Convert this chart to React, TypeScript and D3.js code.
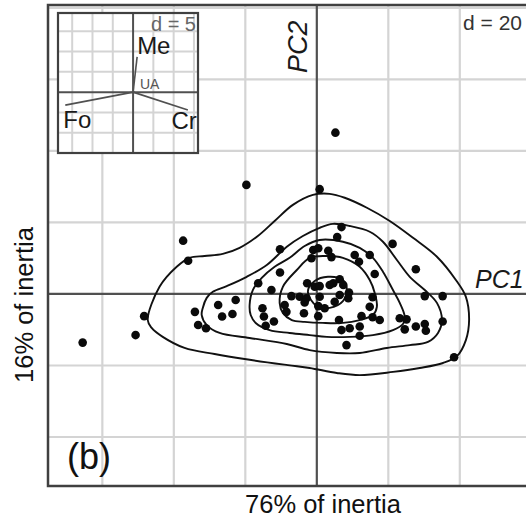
import React from "react";
import * as d3 from "d3";

const W = 526;
const H = 524;
const FONT = "'Liberation Sans', Arial, sans-serif";

// PCA scores of the observations (main plot units, grid d = 20)
const scores: [number, number][] = [
  [-65.5, -13.6], [-50.7, -11.5], [-48.3, -6.2], [-37.4, 14.9], [-36.0, 9.3],
  [-19.7, 30.5], [5.2, 45.1], [0.8, 29.3], [38.4, -17.7], [21.2, 14.0],
  [27.7, 6.9], [30.2, -0.6], [35.2, -0.6], [35.2, -7.7], [23.2, -6.8],
  [25.1, -7.1], [24.6, -9.9], [27.7, -9.1], [30.2, -8.4], [30.5, -10.3],
  [8.3, -14.3], [-34.1, -5.0], [-33.2, -8.7], [-31.0, -9.6], [-27.6, -3.1],
  [-22.7, -1.7], [-26.5, -6.3], [-23.6, -5.6], [-10.3, 12.5], [-10.3, 6.0],
  [-16.4, 3.0], [-12.7, 1.1], [-15.2, -4.0], [-14.8, -6.3], [-12.0, -7.7],
  [-14.3, -8.9], [-9.0, -3.1], [-7.1, -0.6], [-8.5, -5.0], [-3.6, -5.4],
  [-2.7, 3.0], [-1.0, 12.3], [-1.5, 10.0], [-4.8, -0.8], [-2.9, -1.2],
  [0.4, -3.4], [0.4, 12.8], [3.2, 12.1], [4.1, 10.3], [6.9, 18.7],
  [5.7, 15.9], [10.6, 10.9], [11.8, 9.0], [14.8, 10.9], [16.2, 5.6],
  [-0.6, 2.0], [0.8, 2.2], [4.6, 3.0], [6.4, 4.1], [7.4, 2.5],
  [9.0, 0.4], [8.8, -1.2], [-3.4, -2.4], [5.0, -2.2], [15.6, -0.9],
  [14.8, -3.6], [0.4, -6.2], [6.2, -7.3], [12.5, -6.2], [15.6, -6.5],
  [17.6, -7.3], [6.9, -10.1], [9.2, -9.6], [12.0, -11.7], [2.2, -4.0],
  [12.0, -9.1], [6.4, -0.3], [0.8, -0.8], [3.6, 2.5],
];

// density contours, outermost first
const contour1: [number, number][] = [
  [-47.3, -7.3], [-44.0, 2.0], [-39.2, 7.6], [-35.6, 10.1], [-31.4, 10.6],
  [-26.3, 11.2], [-21.6, 12.9], [-16.5, 16.2], [-11.8, 20.4], [-6.7, 24.9],
  [-1.1, 27.7], [3.6, 28.0], [7.8, 26.9], [14.0, 24.1], [20.4, 20.4],
  [26.9, 15.7], [33.6, 10.4], [38.9, 3.9], [41.7, -0.8], [42.6, -7.3],
  [41.7, -12.9], [39.2, -17.4], [35.3, -19.3], [28.8, -20.7], [21.3, -21.8],
  [12.0, -22.7], [5.6, -22.1], [-2.0, -20.7], [-8.1, -19.9], [-20.2, -18.2],
  [-28.6, -16.8], [-37.0, -15.1], [-43.1, -12.0], [-46.2, -9.5],
];
const contour2: [number, number][] = [
  [-31.9, -3.9], [-30.8, -1.1], [-29.1, 0.6], [-25.2, 2.2], [-19.6, 4.8],
  [-14.0, 8.1], [-8.4, 13.2], [-3.9, 16.2], [0.8, 18.5], [4.5, 19.6],
  [9.2, 19.0], [14.8, 17.4], [18.5, 14.6], [22.4, 9.5], [26.0, 4.8],
  [30.2, 1.1], [33.6, -2.5], [35.0, -7.3], [33.9, -10.9], [31.1, -13.4],
  [26.0, -14.3], [19.6, -15.1], [12.0, -16.5], [5.6, -16.5], [-2.0, -15.7],
  [-8.4, -14.0], [-18.8, -12.3], [-27.2, -10.9], [-30.8, -8.7], [-32.2, -5.9],
];
const contour3: [number, number][] = [
  [-18.8, -3.1], [-17.9, 1.1], [-15.4, 4.5], [-11.8, 7.6], [-7.6, 10.1],
  [-3.4, 13.4], [0.8, 15.1], [7.3, 14.6], [12.0, 12.9], [15.7, 10.1],
  [18.5, 6.2], [21.3, 1.1], [23.2, -2.5], [24.6, -6.4], [24.1, -8.4],
  [21.3, -10.1], [15.7, -11.5], [9.2, -12.0], [2.8, -12.0], [-2.0, -11.5],
  [-7.6, -10.9], [-13.2, -10.1], [-17.1, -8.1], [-18.5, -5.9],
];
const contour4: [number, number][] = [
  [-10.4, -2.5], [-9.5, 2.0], [-5.6, 6.7], [-2.0, 10.1], [2.8, 10.6],
  [7.3, 10.1], [12.0, 7.6], [14.8, 3.9], [16.2, 0.3], [16.8, -3.6],
  [15.7, -5.9], [12.0, -7.3], [7.3, -8.1], [1.7, -8.1], [-3.4, -7.8],
  [-7.0, -7.3], [-9.5, -5.3],
];
const contour5: [number, number][] = [
  [-2.5, 0.6], [-0.6, 3.6], [3.1, 4.8], [7.3, 3.9], [8.4, 1.1],
  [7.3, -2.0], [3.6, -3.9], [0.0, -3.4],
];
const contours = [contour1, contour2, contour3, contour4, contour5];

// grid lines of the main plot (d = 20)
const gridX = [-60, -40, -20, 20, 40, 60];
const gridY = [-40, -20, 20, 40, 60, 80];

// inset: correlation circle of variables (d = 5)
const varNames = ["Me", "Fo", "Cr", "UA"];
const varX = [1.0, -16.7, 13.5, 0.2];
const varY = [8.7, -3.2, -4.4, 0.3];
const insetGrid = [-15, -10, -5, 5, 10, 15];

export default function App() {
  const x = d3.scaleLinear().domain([-75.2, 60]).range([48, 531.3]);
  const y = d3.scaleLinear().domain([-53.7, 80.8]).range([486, 5]);

  const ix = d3.scaleLinear().domain([-18.5, 16]).range([58, 198]);
  const iy = d3.scaleLinear().domain([-15, 19.5]).range([153, 13]);

  const line = d3
    .line<[number, number]>()
    .x((d) => x(d[0]))
    .y((d) => y(d[1]))
    .curve(d3.curveCatmullRomClosed.alpha(0.5));

  const left = x.range()[0];
  const right = x.range()[1];
  const top = y.range()[1];
  const bottom = y.range()[0];

  const labelPos: Record<string, { dx: number; dy: number; anchor: string; size: number; fill: string }> = {
    Me: { dx: 0, dy: -3, anchor: "start", size: 24, fill: "#1a1a1a" },
    Fo: { dx: -2, dy: 23, anchor: "start", size: 24, fill: "#1a1a1a" },
    Cr: { dx: 9, dy: 19, anchor: "end", size: 24, fill: "#1a1a1a" },
    UA: { dx: 6, dy: -2, anchor: "start", size: 14, fill: "#555" },
  };

  return (
    <svg
      width={W}
      height={H}
      style={{ position: "absolute", left: 0, top: 0, background: "#fff" }}
      fontFamily={FONT}
    >
      <rect width={W} height={H} fill="#fff" />

      {/* grid */}
      {gridX.map((g) => (
        <line key={"gx" + g} x1={x(g)} x2={x(g)} y1={top} y2={bottom} stroke="#d4d4d4" strokeWidth={2.2} />
      ))}
      {gridY.map((g) => (
        <line key={"gy" + g} x1={left} x2={right} y1={y(g)} y2={y(g)} stroke="#d4d4d4" strokeWidth={2.2} />
      ))}

      {/* principal axes */}
      <line x1={left} x2={right} y1={y(0)} y2={y(0)} stroke="#505050" strokeWidth={2.2} />
      <line x1={x(0)} x2={x(0)} y1={top} y2={bottom} stroke="#505050" strokeWidth={2.2} />

      {/* frame */}
      <path
        d={`M${right},${top}H${left}V${bottom}H${right}`}
        fill="none"
        stroke="#404040"
        strokeWidth={2.5}
      />

      {/* contours */}
      {contours.map((c, i) => (
        <path key={"c" + i} d={line(c) ?? ""} fill="none" stroke="#111" strokeWidth={1.9} />
      ))}

      {/* points */}
      {scores.map((p, i) => (
        <circle key={"p" + i} cx={x(p[0])} cy={y(p[1])} r={4.3} fill="#0a0a0a" />
      ))}

      {/* axis names */}
      <text x={475} y={288} fontSize={25} fontStyle="italic" fill="#1a1a1a">
        PC1
      </text>
      <text transform={`translate(307,73) rotate(-90)`} fontSize={27} fontStyle="italic" fill="#1a1a1a">
        PC2
      </text>
      <text x={522} y={30} fontSize={21} textAnchor="end" fill="#333">
        d = 20
      </text>
      <text x={67} y={469} fontSize={36} fill="#111">
        (b)
      </text>
      <text x={323} y={513} fontSize={25.5} textAnchor="middle" fill="#111">
        76% of inertia
      </text>
      <text transform={`translate(33,305) rotate(-90)`} fontSize={25.5} textAnchor="middle" fill="#111">
        16% of inertia
      </text>

      {/* inset */}
      <g>
        <rect x={58} y={13} width={140} height={140} fill="#fff" />
        {insetGrid.map((g) => (
          <line key={"igx" + g} x1={ix(g)} x2={ix(g)} y1={13} y2={153} stroke="#d4d4d4" strokeWidth={2} />
        ))}
        {insetGrid
          .filter((g) => g > -15)
          .map((g) => (
            <line key={"igy" + g} x1={58} x2={198} y1={iy(g)} y2={iy(g)} stroke="#d4d4d4" strokeWidth={2} />
          ))}
        <line x1={58} x2={198} y1={iy(0)} y2={iy(0)} stroke="#505050" strokeWidth={2} />
        <line x1={ix(0)} x2={ix(0)} y1={13} y2={153} stroke="#505050" strokeWidth={2} />
        <rect x={58} y={13} width={140} height={140} fill="none" stroke="#404040" strokeWidth={2.2} />
        <text x={196} y={31} fontSize={20} textAnchor="end" fill="#666">
          d = 5
        </text>
        {varNames.map((n, i) => {
          const lp = labelPos[n];
          return (
            <g key={n}>
              <line
                x1={ix(0)}
                y1={iy(0)}
                x2={ix(varX[i])}
                y2={iy(varY[i])}
                stroke="#505050"
                strokeWidth={1.6}
              />
              <text
                x={ix(varX[i]) + lp.dx}
                y={iy(varY[i]) + lp.dy}
                fontSize={lp.size}
                textAnchor={lp.anchor}
                fill={lp.fill}
              >
                {n}
              </text>
            </g>
          );
        })}
      </g>
    </svg>
  );
}
